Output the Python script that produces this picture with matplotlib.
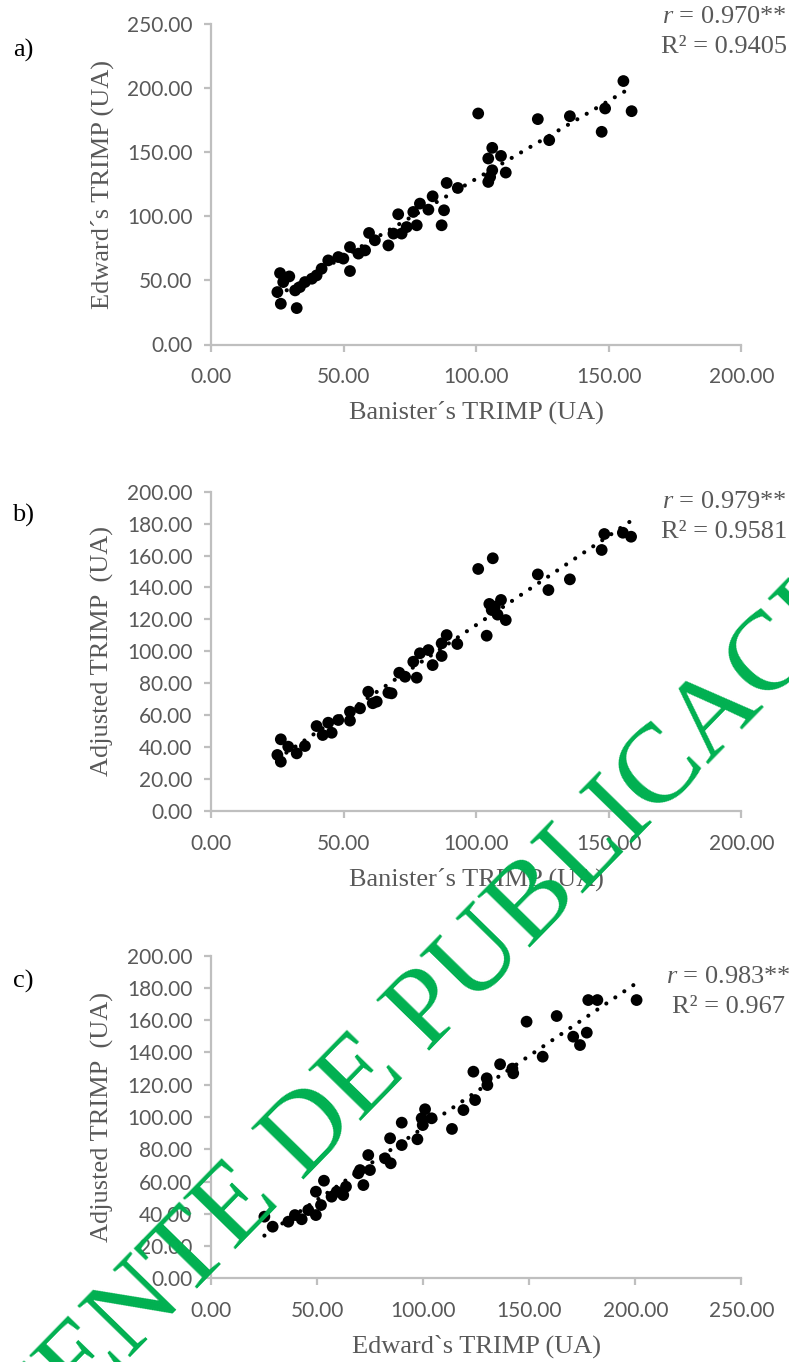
import numpy as np
import matplotlib
matplotlib.use("Agg")
import matplotlib.pyplot as plt

# ---------------- data ----------------
banister_a = [25.9, 29.4, 24.9, 26.2, 32.2, 31.6, 35.3, 33.4, 27.1, 37.9, 39.7, 41.6, 44.1, 47.9,
              49.8, 52.3, 52.3, 55.5, 58.0, 59.5, 61.7, 66.8, 68.7, 70.5, 71.8, 73.7, 77.5, 76.2,
              78.7, 81.9, 83.5, 86.9, 87.8, 88.8, 93.0, 100.7, 104.5, 104.5, 106.0, 106.0, 109.3,
              111.1, 105.2, 123.2, 127.5, 135.3, 147.3, 148.6, 155.5, 158.6]
edwards_a = [55.7, 53.1, 40.9, 31.8, 28.4, 42.2, 48.7, 44.8, 48.7, 51.3, 53.9, 59.1, 65.6, 68.2,
             67.0, 57.3, 76.0, 70.9, 73.4, 87.0, 81.3, 77.3, 86.5, 101.6, 86.5, 91.6, 93.0, 103.4,
             109.9, 105.2, 115.6, 93.0, 104.7, 126.0, 122.1, 180.2, 126.8, 145.1, 153.4, 135.9, 147.1,
             134.1, 130.7, 175.8, 159.4, 178.1, 165.9, 184.1, 205.5, 182.0]

banister_b = [26.2, 24.9, 26.2, 29.0, 32.2, 35.3, 39.7, 42.0, 44.1, 45.4, 47.9, 52.3, 52.3, 56.1,
              59.2, 60.9, 62.4, 66.8, 68.0, 70.9, 73.1, 77.5, 76.2, 78.7, 81.9, 83.5, 86.9, 86.9,
              88.8, 92.8, 100.7, 103.9, 106.2, 104.9, 105.8, 107.0, 109.3, 111.1, 108.0, 123.2,
              127.2, 135.3, 147.3, 148.3, 155.3, 158.4]
adjusted_b = [44.9, 35.1, 30.9, 40.3, 36.1, 40.7, 53.2, 47.6, 55.3, 49.0, 57.0, 62.2, 56.6, 64.3,
              74.7, 67.5, 68.5, 74.1, 73.7, 86.6, 84.1, 83.5, 93.5, 98.8, 100.8, 91.4, 97.1, 105.0,
              110.2, 104.6, 151.6, 109.8, 158.3, 129.7, 125.9, 128.0, 132.2, 119.6, 123.0, 148.2,
              138.4, 145.1, 163.5, 173.5, 174.3, 171.8]

edwards_c = [25.0, 28.9, 36.3, 39.4, 42.6, 45.7, 49.3, 51.7, 49.3, 53.1, 56.7, 62.2, 63.5, 59.1,
             71.7, 70.1, 74.8, 74.0, 69.3, 81.9, 84.6, 84.3, 89.8, 89.8, 97.2, 99.7, 100.8, 103.9,
             99.2, 113.5, 118.9, 124.4, 123.6, 129.9, 130.2, 136.2, 142.4, 142.0, 156.3, 148.7,
             162.9, 170.7, 173.9, 177.1, 177.8, 182.1, 200.6]
adjusted_c = [38.2, 32.0, 35.1, 39.2, 36.6, 42.3, 39.2, 45.4, 53.7, 60.5, 50.6, 51.6, 56.8, 53.7,
              57.8, 67.1, 67.1, 76.4, 65.1, 74.4, 71.3, 86.8, 82.6, 96.5, 86.2, 95.0, 104.8, 99.2,
              99.2, 92.6, 104.3, 110.5, 128.1, 124.0, 119.8, 132.7, 127.1, 130.0, 137.4, 159.1,
              162.6, 149.8, 144.6, 152.3, 172.5, 172.5, 172.5]

xticks_a = [0, 50, 100, 150, 200]
yticks_a = [0, 50, 100, 150, 200, 250]
xticks_b = [0, 50, 100, 150, 200]
yticks_b = [0, 20, 40, 60, 80, 100, 120, 140, 160, 180, 200]
xticks_c = [0, 50, 100, 150, 200, 250]
yticks_c = [0, 20, 40, 60, 80, 100, 120, 140, 160, 180, 200]

panel_letters = ["a)", "b)", "c)"]
x_labels = ["Banister´s TRIMP (UA)", "Banister´s TRIMP (UA)", "Edward`s TRIMP (UA)"]
y_labels = ["Edward´s TRIMP (UA)", "Adjusted TRIMP  (UA)", "Adjusted TRIMP  (UA)"]
r_values = ["0.970", "0.979", "0.983"]
r2_values = ["0.9405", "0.9581", "0.967"]
watermark = "PENDIENTE DE PUBLICACIÓN"

# ---------------- style ----------------
plt.rcParams["mathtext.fontset"] = "custom"
plt.rcParams["mathtext.rm"] = "Liberation Serif"
plt.rcParams["mathtext.it"] = "Liberation Serif:italic"

W, H = 789, 1362
fig = plt.figure(figsize=(W / 100, H / 100), dpi=100)

SERIF = "Liberation Serif"
TICKFONT = "Lato"
GRAY_TXT = "#595959"
AXIS_COL = "#BFBFBF"

def rect(left, right, top, bottom):
    return [left / W, 1 - bottom / H, (right - left) / W, (bottom - top) / H]

panels = [
    dict(x=banister_a, y=edwards_a, rect=rect(211.4, 741.3, 24.0, 344.5),
         xlim=(0, 200), ylim=(0, 250), xt=xticks_a, yt=yticks_a,
         letter_y=50, ann_x=724, ann_y=(16.7, 46.7)),
    dict(x=banister_b, y=adjusted_b, rect=rect(211.4, 741.3, 491.7, 811.0),
         xlim=(0, 200), ylim=(0, 200), xt=xticks_b, yt=yticks_b,
         letter_y=515, ann_x=724, ann_y=(501.7, 531.7)),
    dict(x=edwards_c, y=adjusted_c, rect=rect(211.4, 741.3, 955.7, 1278.3),
         xlim=(0, 250), ylim=(0, 200), xt=xticks_c, yt=yticks_c,
         letter_y=981.7, ann_x=728, ann_y=(976.7, 1006.7)),
]

for i, p in enumerate(panels):
    ax = fig.add_axes(p["rect"])
    x = np.array(p["x"], dtype=float)
    y = np.array(p["y"], dtype=float)
    ax.scatter(x, y, s=72, c="black", edgecolors="none", zorder=3)

    # linear trend line (dotted), fitted to the data
    k, b0 = np.polyfit(x, y, 1)
    xs = np.array([x.min(), x.max()])
    ax.plot(xs, k * xs + b0, color="black", lw=3.0, linestyle=(0, (0.01, 2.6)),
            dash_capstyle="round", zorder=4)

    ax.set_xlim(*p["xlim"])
    ax.set_ylim(*p["ylim"])
    ax.set_xticks(p["xt"])
    ax.set_yticks(p["yt"])
    ax.set_xticklabels([f"{v:.2f}" for v in p["xt"]])
    ax.set_yticklabels([f"{v:.2f}" for v in p["yt"]])
    for s in ("top", "right"):
        ax.spines[s].set_visible(False)
    for s in ("left", "bottom"):
        ax.spines[s].set_color(AXIS_COL)
        ax.spines[s].set_linewidth(1.6)
    ax.tick_params(axis="both", direction="out", length=5, width=1.6, color=AXIS_COL,
                   labelcolor=GRAY_TXT, labelsize=15)
    ax.tick_params(axis="y", pad=8.5)
    ax.tick_params(axis="x", pad=11.5)
    for lab in ax.get_xticklabels() + ax.get_yticklabels():
        lab.set_fontfamily(TICKFONT)

    axh = p["rect"][3] * H
    axw = p["rect"][2] * W
    ax.set_xlabel(x_labels[i], fontsize=19, color=GRAY_TXT, family=SERIF)
    ax.xaxis.set_label_coords(0.5, -68 / axh)
    ax.xaxis.label.set_verticalalignment("center")
    ax.set_ylabel(y_labels[i], fontsize=19, color=GRAY_TXT, family=SERIF)
    ax.yaxis.set_label_coords(-109 / axw, 0.5)
    ax.yaxis.label.set_verticalalignment("center")

    fig.text(23 / W, 1 - p["letter_y"] / H, panel_letters[i], ha="center", va="center",
             fontsize=19, family=SERIF, color="black")
    fig.text(p["ann_x"] / W, 1 - p["ann_y"][0] / H, r"$\mathit{r}$ = " + r_values[i] + "**",
             ha="center", va="center", fontsize=19, family=SERIF, color=GRAY_TXT)
    fig.text(p["ann_x"] / W, 1 - p["ann_y"][1] / H, "R² = " + r2_values[i],
             ha="center", va="center", fontsize=19, family=SERIF, color=GRAY_TXT)

# watermark
fig.text(403 / W, 1 - 1078 / H, watermark, rotation=45.7, rotation_mode="anchor",
         ha="center", va="baseline", fontsize=81.5, family=SERIF, color="#00B050", zorder=10)

fig.savefig("out.png", dpi=100)
